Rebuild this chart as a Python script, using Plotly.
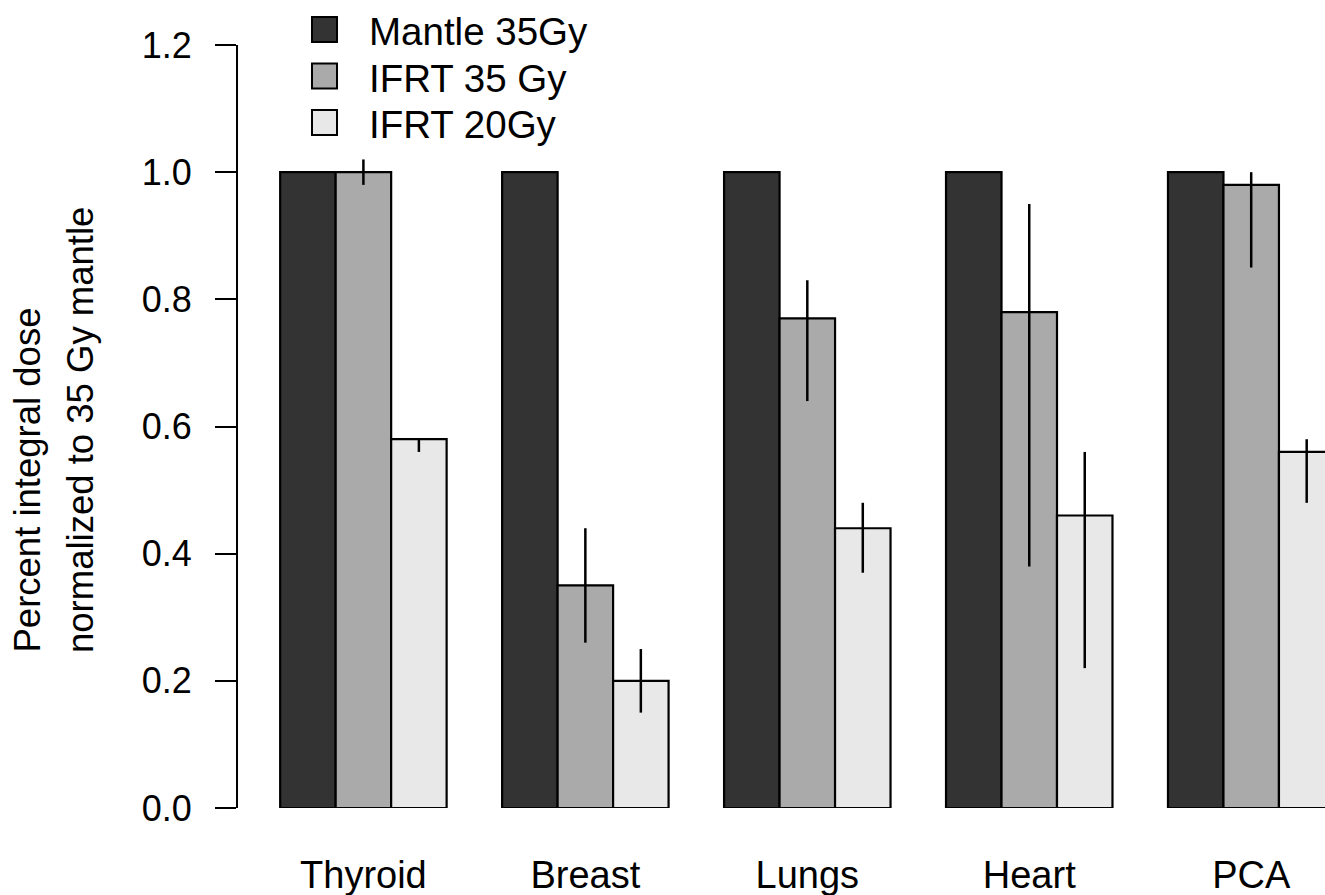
import plotly.graph_objects as go

categories = ["Thyroid", "Breast", "Lungs", "Heart", "PCA"]
series_names = ["Mantle 35Gy", "IFRT 35 Gy", "IFRT 20Gy"]
colors = ["#333333", "#aaaaaa", "#e8e8e8"]

mantle_35 = [1.0, 1.0, 1.0, 1.0, 1.0]
ifrt_35 = [1.0, 0.35, 0.77, 0.78, 0.98]
ifrt_35_hi = [1.02, 0.44, 0.83, 0.95, 1.00]
ifrt_35_lo = [0.98, 0.26, 0.64, 0.38, 0.85]
ifrt_20 = [0.58, 0.20, 0.44, 0.46, 0.56]
ifrt_20_hi = [0.58, 0.25, 0.48, 0.56, 0.58]
ifrt_20_lo = [0.56, 0.15, 0.37, 0.22, 0.48]

y_ticks = [0.0, 0.2, 0.4, 0.6, 0.8, 1.0, 1.2]

FONT = "Liberation Sans, Arial, Helvetica, sans-serif"
FS = 36
W, H = 1325, 895
ML, MR, MT, MB = 238, 0, 45, 87
PW, PH = W - ML - MR, H - MT - MB


def px(x):
    return (x - ML) / PW


def py(y):
    return (H - MB - y) / PH


fig = go.Figure()
series = [
    (mantle_35, None, None),
    (ifrt_35, ifrt_35_hi, ifrt_35_lo),
    (ifrt_20, ifrt_20_hi, ifrt_20_lo),
]
for (vals, hi, lo), name, col in zip(series, series_names, colors):
    err = None
    if hi is not None:
        err = dict(
            type="data",
            symmetric=False,
            array=[h - v for h, v in zip(hi, vals)],
            arrayminus=[v - l for v, l in zip(vals, lo)],
            width=0,
            thickness=2.5,
            color="black",
        )
    fig.add_trace(
        go.Bar(
            x=categories,
            y=vals,
            name=name,
            marker=dict(color=col, line=dict(color="black", width=2.2)),
            error_y=err,
            showlegend=False,
        )
    )

# custom legend (large squares like the original)
shapes = []
annotations = []
leg_rows = [29.5, 76, 122.5]
for name, col, yc in zip(series_names, colors, leg_rows):
    shapes.append(
        dict(
            type="rect",
            xref="paper",
            yref="paper",
            x0=px(312),
            x1=px(337),
            y0=py(yc + 12.5),
            y1=py(yc - 12.5),
            fillcolor=col,
            line=dict(color="black", width=2),
            layer="above",
        )
    )
    annotations.append(
        dict(
            text=name,
            xref="paper",
            yref="paper",
            x=px(367),
            y=py(yc + 2),
            xanchor="left",
            yanchor="middle",
            showarrow=False,
            font=dict(family=FONT, size=38.5, color="black"),
        )
    )

# y-axis title, two lines aligned at the bottom
for txt, xc in [("Percent integral dose", 27), ("normalized to 35 Gy mantle", 80)]:
    annotations.append(
        dict(
            text=txt,
            xref="paper",
            yref="paper",
            x=px(xc),
            y=py(655),
            xanchor="center",
            yanchor="bottom",
            textangle=-90,
            showarrow=False,
            font=dict(family=FONT, size=36.5, color="black"),
        )
    )

fig.update_layout(
    width=W,
    height=H,
    margin=dict(l=ML, r=MR, t=MT, b=MB),
    paper_bgcolor="white",
    plot_bgcolor="white",
    barmode="group",
    bargap=0.25,
    bargroupgap=0,
    font=dict(family=FONT, size=FS, color="black"),
    shapes=shapes,
    annotations=annotations,
    xaxis=dict(
        type="category",
        range=[-0.565, 4.3325],
        showline=False,
        showgrid=False,
        zeroline=False,
        ticks="",
        ticklabelstandoff=41,
        tickfont=dict(family=FONT, size=38),
        fixedrange=True,
    ),
    yaxis=dict(
        range=[0, 1.2],
        tickvals=y_ticks,
        ticktext=[f"{v:.1f}" for v in y_ticks],
        showline=True,
        linecolor="black",
        linewidth=2,
        ticks="outside",
        ticklen=21,
        tickwidth=2,
        tickcolor="black",
        ticklabelstandoff=16,
        showgrid=False,
        zeroline=False,
        tickfont=dict(family=FONT, size=FS),
        fixedrange=True,
    ),
)

fig.write_html(
    "out.html",
    config={"displayModeBar": False, "staticPlot": True},
    post_script="document.body.style.margin='0';document.body.style.overflow='hidden';",
)
